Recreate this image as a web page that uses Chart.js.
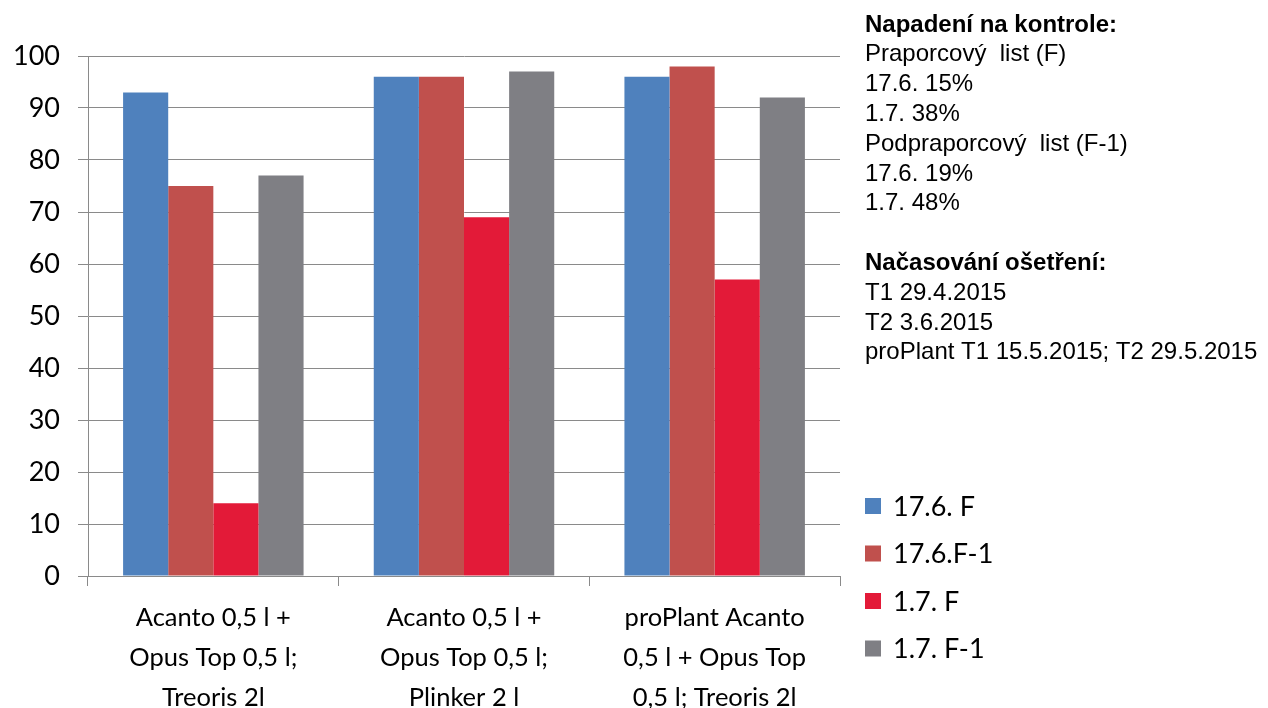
<!DOCTYPE html>
<html>
<head>
<meta charset="utf-8">
<script src="https://cdn.jsdelivr.net/npm/chart.js@4/dist/chart.umd.min.js"></script>
<style>
  html, body { margin: 0; padding: 0; background: #fff; }
  #wrap { width: 1268px; height: 708px; position: relative; }
</style>
</head>
<body>
<div id="wrap"><canvas id="chart"></canvas></div>
<script>
'use strict';

// ── Data ──────────────────────────────────────────────────────
const categories = [
  ['Acanto 0,5 l +', 'Opus Top 0,5 l;', 'Treoris 2l'],
  ['Acanto 0,5 l +', 'Opus Top 0,5 l;', 'Plinker 2 l'],
  ['proPlant Acanto', '0,5 l + Opus Top', '0,5 l; Treoris 2l']
];
const seriesLabels = ['17.6. F', '17.6.F-1', '1.7. F', '1.7. F-1'];
const seriesColors = ['#4F81BD', '#C0504D', '#E31A38', '#7F7F84'];

const f_1706  = [93, 96, 96];
const f1_1706 = [75, 96, 98];
const f_0107  = [14, 69, 57];
const f1_0107 = [77, 97, 92];

const yMin = 0, yMax = 100, yStep = 10;

const noteLines = [
  { text: 'Napadení na kontrole:', bold: true },
  { text: 'Praporcový  list (F)' },
  { text: '17.6. 15%' },
  { text: '1.7. 38%' },
  { text: 'Podpraporcový  list (F-1)' },
  { text: '17.6. 19%' },
  { text: '1.7. 48%' },
  { text: '' },
  { text: 'Načasování ošetření:', bold: true },
  { text: 'T1 29.4.2015' },
  { text: 'T2 3.6.2015' },
  { text: 'proPlant T1 15.5.2015; T2 29.5.2015' }
];

const AXIS_FONT = "Lato, 'Open Sans', sans-serif";
const NOTE_FONT = "'Liberation Sans', Arial, sans-serif";
const GRID = '#8A8A8A';

// ── Side notes (top right) ────────────────────────────────────
const notesPlugin = {
  id: 'notes',
  afterDraw(chart) {
    const ctx = chart.ctx;
    ctx.save();
    ctx.fillStyle = '#000';
    ctx.textBaseline = 'middle';
    ctx.textAlign = 'left';
    noteLines.forEach((ln, i) => {
      ctx.font = (ln.bold ? 'bold ' : '') + '24px ' + NOTE_FONT;
      ctx.fillText(ln.text, 865, 25 + i * 29.8);
    });
    ctx.restore();
  }
};

// ── Legend (bottom right), built from the datasets ────────────
const legendPlugin = {
  id: 'sideLegend',
  afterDraw(chart) {
    const ctx = chart.ctx;
    ctx.save();
    ctx.textBaseline = 'middle';
    ctx.textAlign = 'left';
    ctx.font = '27px ' + AXIS_FONT;
    chart.data.datasets.forEach((ds, i) => {
      const y = 506 + i * 47.5;
      ctx.fillStyle = ds.backgroundColor;
      ctx.fillRect(865, y - 8, 16, 16);
      ctx.fillStyle = '#000';
      ctx.fillText(ds.label, 893, y + 1);
    });
    ctx.restore();
  }
};

const seriesData = [f_1706, f1_1706, f_0107, f1_0107];

new Chart(document.getElementById('chart'), {
  type: 'bar',
  data: {
    labels: categories,
    datasets: seriesData.map((d, i) => ({
      label: seriesLabels[i],
      data: d,
      backgroundColor: seriesColors[i],
      borderWidth: 0,
      barPercentage: 1,
      categoryPercentage: 0.72
    }))
  },
  options: {
    responsive: true,
    maintainAspectRatio: false,
    animation: false,
    layout: { padding: { top: 56, right: 428, left: 0, bottom: 0 } },
    plugins: {
      legend: { display: false },
      tooltip: { enabled: false }
    },
    scales: {
      x: {
        grid: {
          offset: true,
          drawOnChartArea: false,
          color: GRID,
          tickLength: 10
        },
        border: { color: GRID },
        ticks: {
          color: '#000',
          padding: 12,
          maxRotation: 0,
          autoSkip: false,
          font: { family: AXIS_FONT, size: 25.5, lineHeight: '40px' }
        },
        afterFit: s => { s.height = 132; }
      },
      y: {
        min: yMin,
        max: yMax,
        grid: { color: GRID, tickLength: 10 },
        border: { color: GRID },
        ticks: {
          stepSize: yStep,
          color: '#000',
          padding: 18,
          font: { family: AXIS_FONT, size: 27 }
        },
        afterFit: s => { s.width = 88; }
      }
    }
  },
  plugins: [notesPlugin, legendPlugin]
});
</script>
</body>
</html>
